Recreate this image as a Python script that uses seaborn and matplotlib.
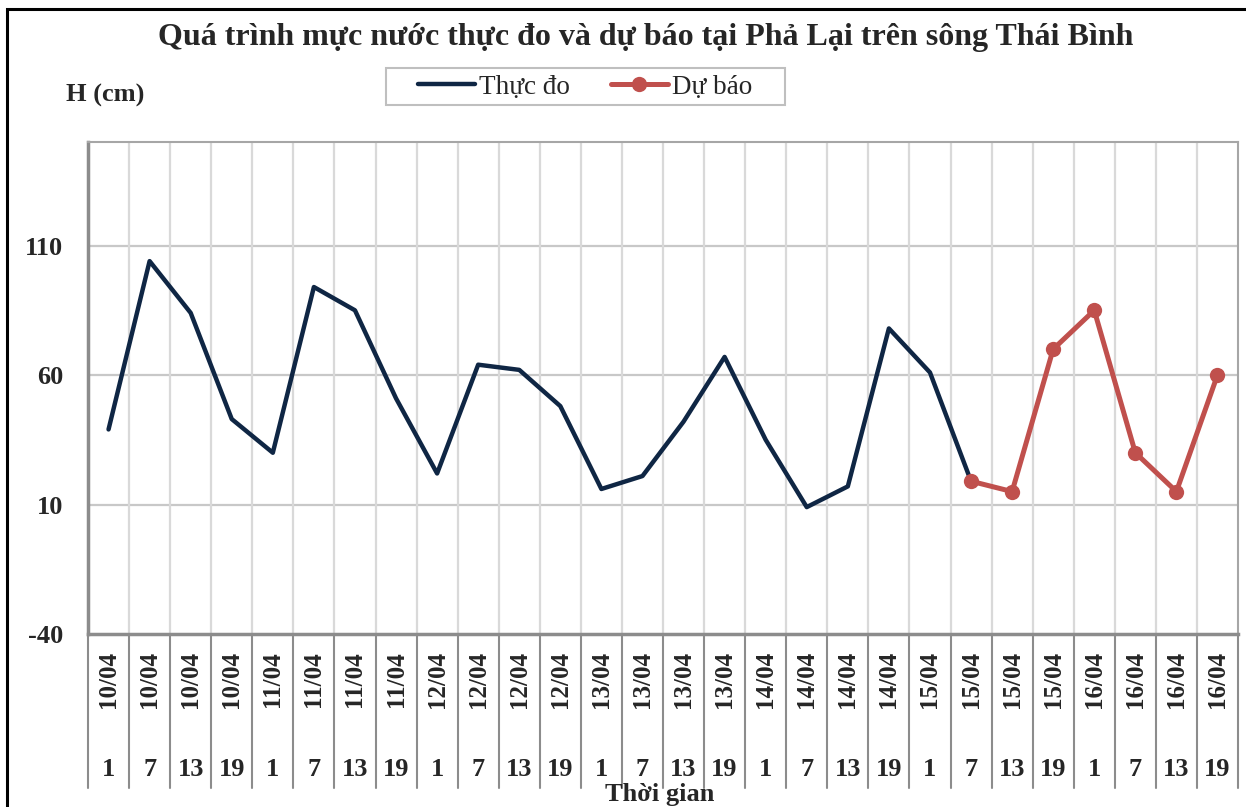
import matplotlib
matplotlib.use("Agg")
import numpy as np
import pandas as pd
import seaborn as sns
from matplotlib import pyplot as plt
from matplotlib import transforms
from matplotlib.patches import Rectangle

dates = ["10/04"] * 4 + ["11/04"] * 4 + ["12/04"] * 4 + ["13/04"] * 4 + \
        ["14/04"] * 4 + ["15/04"] * 4 + ["16/04"] * 4
hours = ["1", "7", "13", "19"] * 7

observed = [39, 104, 84, 43, 30, 94, 85, 51, 22, 64, 62, 48, 16, 21,
            42, 67, 35, 9, 17, 78, 61, 19]
forecast = [19, 15, 70, 85, 30, 15, 60]
forecast_start = 21

obs_df = pd.DataFrame({"t": range(len(observed)), "H": observed})
fc_df = pd.DataFrame({"t": range(forecast_start, forecast_start + len(forecast)), "H": forecast})

sns.set_style("white")
plt.rcParams["font.family"] = ["Liberation Serif", "DejaVu Serif"]
plt.rcParams["font.weight"] = "bold"

fig = plt.figure(figsize=(12.46, 8.07), dpi=100)
ax = fig.add_axes([88 / 1246, 1 - 634 / 807, (1238 - 88) / 1246, (634 - 142) / 807])

sns.lineplot(data=obs_df, x="t", y="H", ax=ax, color="#0f2644", linewidth=3.2,
             label="Thực đo", solid_capstyle="round")
sns.lineplot(data=fc_df, x="t", y="H", ax=ax, color="#c0504d", linewidth=3.6,
             marker="o", markersize=11, markeredgewidth=0, label="Dự báo")

n = len(dates)
ax.set_xlim(-0.5, n - 0.5)
ax.set_ylim(-40, 150)
ax.set_yticks([-40, 10, 60, 110])
ax.set_yticklabels(["-40", "10", "60", "110"], fontsize=19, fontweight="bold")
ax.tick_params(axis="y", length=0, pad=18)
ax.set_xticks([])
ax.set_xlabel("")
ax.set_ylabel("")

# grid: horizontal at ticks, vertical at category boundaries
for yv in [10, 60, 110]:
    ax.axhline(yv, color="#c8c8c8", linewidth=1.6, zorder=0)
for b in np.arange(0.5, n - 0.5, 1):
    ax.axvline(b, color="#d9d9d9", linewidth=1.6, zorder=0)

for side in ["top", "right"]:
    ax.spines[side].set_color("#a6a6a6")
    ax.spines[side].set_linewidth(1.5)
ax.spines["left"].set_color("#8c8c8c")
ax.spines["left"].set_linewidth(2.5)
ax.spines["bottom"].set_color("#8c8c8c")
ax.spines["bottom"].set_linewidth(2.5)

# two-level category labels
trans = transforms.blended_transform_factory(ax.transData, ax.transAxes)
for i in range(n):
    ax.text(i, -0.035, dates[i], transform=trans, rotation=90, ha="center", va="top",
            fontsize=18, fontweight="bold")
    ax.text(i, -0.275, hours[i], transform=trans, ha="center", va="center",
            fontsize=19, fontweight="bold")
for b in np.arange(-0.5, n, 1):
    ax.plot([b, b], [0, -0.313], transform=trans, color="#8c8c8c", linewidth=1.5,
            clip_on=False)

ax.legend_.remove()
handles, labels = ax.get_legend_handles_labels()
leg = fig.legend(handles, labels, loc="center", bbox_to_anchor=(585 / 1246, 1 - 87 / 807),
                 ncol=2, frameon=False, fontsize=19.5, handlelength=2.1,
                 columnspacing=1.5, handletextpad=0.15, borderpad=0.3)
for t in leg.get_texts():
    t.set_fontweight("normal")
fig.add_artist(Rectangle((386 / 1246, 1 - 105 / 807), (785 - 386) / 1246, 37 / 807,
                         transform=fig.transFigure, fill=False, edgecolor="#bfbfbf",
                         linewidth=1.5))

fig.text(646 / 1246, 1 - 38 / 807, "Quá trình mực nước thực đo và dự báo tại Phả Lại trên sông Thái Bình",
         ha="center", va="center", fontsize=23, fontweight="bold")
fig.text(105 / 1246, 1 - 95 / 807, "H (cm)", ha="center", va="center",
         fontsize=19, fontweight="bold")
fig.text(660 / 1246, 1 / 807, "Thời gian", ha="center", va="bottom",
         fontsize=19, fontweight="bold")

fig.add_artist(Rectangle((7 / 1246, -0.05), 1.2, 1 - 9 / 807 + 0.05, transform=fig.transFigure,
                         fill=False, edgecolor="black", linewidth=2.2))

fig.savefig("out.png", dpi=100)
